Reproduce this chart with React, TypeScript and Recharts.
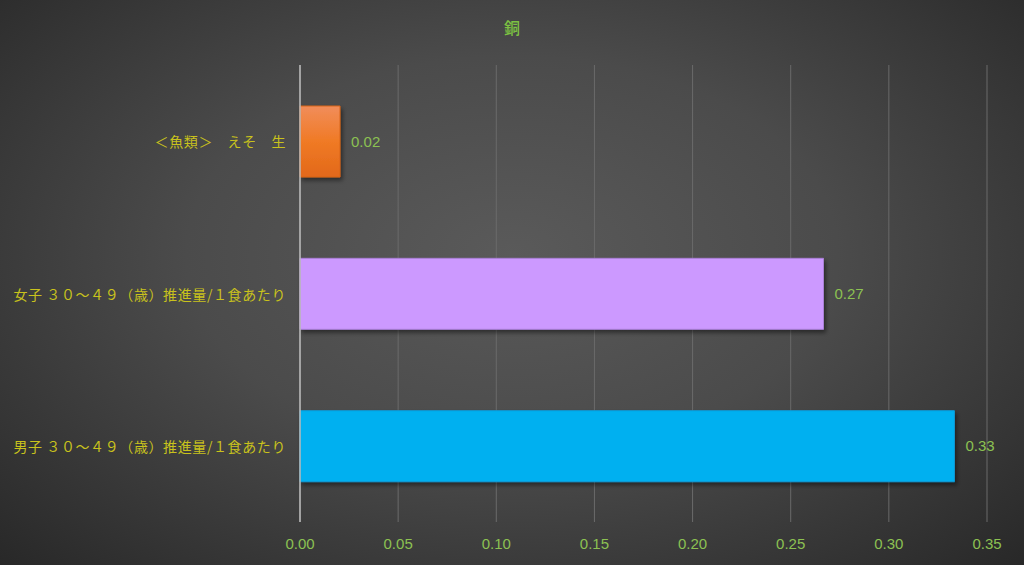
import React from 'react';
import { BarChart, Bar, XAxis, YAxis, CartesianGrid, Cell, LabelList } from 'recharts';

const categories = [
  '＜魚類＞　えそ　生',
  '女子 ３０～４９（歳）推進量/１食あたり',
  '男子 ３０～４９（歳）推進量/１食あたり',
];
const values = [0.0204, 0.2667, 0.3334];
const xTicks = [0, 0.05, 0.1, 0.15, 0.2, 0.25, 0.3, 0.35];
const barFills = ['url(#orangeGrad)', '#cc99ff', '#00b0f0'];
const barStrokes = ['#d86418', '#a97fd6', '#0a9ad6'];

const chartData = categories.map((name, i) => ({ name, value: values[i] }));

const W = 1024;
const H = 565;
const numFont = '"Liberation Sans Narrow", "Liberation Sans", sans-serif';

// single-line category label (default tick wraps at spaces)
const CategoryTick = (props: any) => {
  const { x, y, payload } = props;
  return (
    <text
      x={x}
      y={y}
      textAnchor="end"
      dominantBaseline="central"
      fill="#c9c21c"
      fontSize={14}
      letterSpacing={0.6}
      fontFamily='"Noto Sans CJK JP", sans-serif'
    >
      {payload.value}
    </text>
  );
};

export default function App() {
  return (
    <div
      style={{
        position: 'absolute',
        left: 0,
        top: 0,
        width: W,
        height: H,
        background: 'radial-gradient(ellipse at 50% 45%, #5a5a5a 0%, #4b4b4b 45%, #282828 100%)',
        overflow: 'hidden',
      }}
    >
      <div
        style={{
          position: 'absolute',
          top: 16,
          left: 0,
          width: W,
          textAlign: 'center',
          color: '#7dc242',
          fontFamily: '"Noto Sans CJK JP", sans-serif',
          fontSize: 16,
          fontWeight: 500,
          lineHeight: '22px',
        }}
      >
        銅
      </div>
      <BarChart
        width={W}
        height={H}
        data={chartData}
        layout="vertical"
        margin={{ top: 65, right: 37, left: 0, bottom: 13 }}
        barSize={71}
      >
        <defs>
          <linearGradient id="orangeGrad" x1="0" y1="0" x2="0" y2="1">
            <stop offset="0%" stopColor="#f18d5a" />
            <stop offset="50%" stopColor="#f07a25" />
            <stop offset="100%" stopColor="#e2681a" />
          </linearGradient>
          <filter id="barShadow" x="-10%" y="-10%" width="130%" height="140%">
            <feDropShadow dx="2" dy="3" stdDeviation="2" floodColor="#000" floodOpacity="0.45" />
          </filter>
        </defs>
        <CartesianGrid horizontal={false} stroke="#6a6a6a" strokeWidth={1} />
        <XAxis
          type="number"
          domain={[0, 0.35]}
          ticks={xTicks}
          interval={0}
          axisLine={false}
          tickLine={false}
          tickMargin={10}
          height={30}
          tickFormatter={(v: number) => v.toFixed(2)}
          tick={{ fill: '#8cc152', fontSize: 15, fontFamily: numFont }}
        />
        <YAxis
          type="category"
          dataKey="name"
          width={300}
          axisLine={{ stroke: '#bdbdbd', strokeWidth: 1.5 }}
          tickLine={false}
          tickMargin={8}
          tick={<CategoryTick />}
        />
        <Bar dataKey="value" isAnimationActive={false} filter="url(#barShadow)">
          {chartData.map((d, i) => (
            <Cell key={d.name} fill={barFills[i]} stroke={barStrokes[i]} strokeWidth={1} />
          ))}
          <LabelList
            dataKey="value"
            position="right"
            offset={11}
            formatter={(v: number) => v.toFixed(2)}
            fill="#8cc152"
            fontSize={15}
            fontFamily={numFont}
          />
        </Bar>
      </BarChart>
    </div>
  );
}
